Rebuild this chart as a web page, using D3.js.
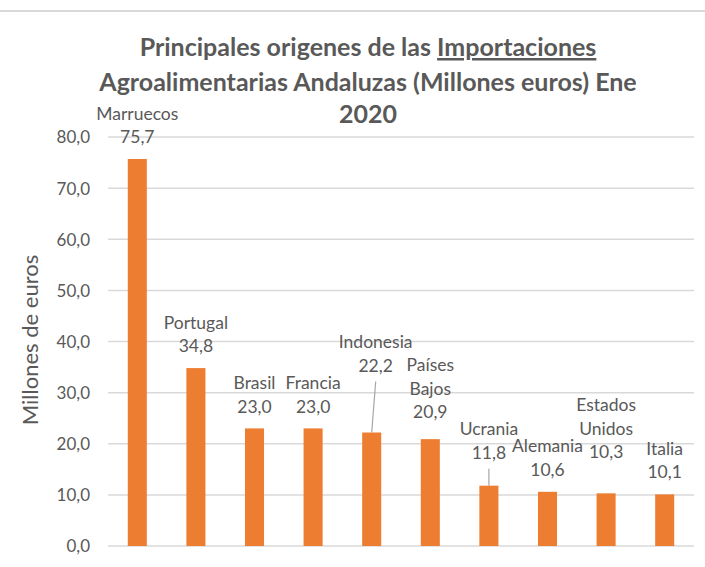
<!DOCTYPE html>
<html>
<head>
<meta charset="utf-8">
<script src="https://cdn.jsdelivr.net/npm/d3@7"></script>
<style>
  body { margin: 0; background: #fff; }
  text { font-family: Lato, "Open Sans", sans-serif; fill: #595959; }
</style>
</head>
<body>
<script>
// Data
var countries = ["Marruecos", "Portugal", "Brasil", "Francia", "Indonesia", "Países Bajos", "Ucrania", "Alemania", "Estados Unidos", "Italia"];
var values = [75.7, 34.8, 23.0, 23.0, 22.2, 20.9, 11.8, 10.6, 10.3, 10.1];
var yTicks = [0, 10, 20, 30, 40, 50, 60, 70, 80];
var titleLines = ["Principales origenes de las ", "Agroalimentarias Andaluzas (Millones euros) Ene", "2020"];

// Label layout (moved labels, wrapped names)
var labelShift = {"Indonesia": [4, -45], "Países Bajos": [0, -5], "Ucrania": [0, -11], "Estados Unidos": [0, -19]};
var leaderLines = ["Indonesia", "Ucrania"];
var wrapped = ["Países Bajos", "Estados Unidos"];

var width = 705, height = 567;
var margin = {top: 137, right: 11, bottom: 21, left: 108};

var svg = d3.select("body").append("svg")
    .attr("width", width)
    .attr("height", height);

// top border line
svg.append("line")
    .attr("x1", 0).attr("x2", width)
    .attr("y1", 11).attr("y2", 11)
    .style("stroke", "#d9d9d9")
    .style("stroke-width", 2);

var x = d3.scaleBand()
    .domain(countries)
    .range([margin.left, width - margin.right])
    .paddingInner(0.675)
    .paddingOuter(0.3375);

var y = d3.scaleLinear()
    .domain([0, 80])
    .range([height - margin.bottom, margin.top]);

// Gridlines
svg.append("g")
    .selectAll("line")
    .data(yTicks)
    .enter()
    .append("line")
    .attr("x1", margin.left)
    .attr("x2", width - margin.right)
    .attr("y1", function(d) { return y(d); })
    .attr("y2", function(d) { return y(d); })
    .style("stroke", "#d9d9d9")
    .style("stroke-width", 1.5);

// Y axis
var yAxis = svg.append("g")
    .attr("transform", "translate(" + (margin.left - 18) + ",0)")
    .call(d3.axisLeft(y).tickValues(yTicks).tickSize(0).tickPadding(0)
      .tickFormat(function(d) { return d.toFixed(1).replace(".", ","); }));
yAxis.select(".domain").remove();
yAxis.selectAll("text")
    .style("font-size", "17px")
    .style("fill", "#595959")
    .style("font-family", "Lato, sans-serif")
    .attr("dy", "0.35em");

// Axis title
svg.append("text")
    .attr("transform", "translate(38," + 340 + ") rotate(-90)")
    .attr("text-anchor", "middle")
    .style("font-size", "22px")
    .text("Millones de euros");

// Bars
svg.selectAll(".bar")
    .data(countries)
    .enter()
    .append("rect")
    .attr("class", "bar")
    .attr("x", function(d) { return x(d); })
    .attr("width", x.bandwidth())
    .attr("y", function(d, i) { return y(values[i]); })
    .attr("height", function(d, i) { return y(0) - y(values[i]); })
    .style("fill", "#ED7D31");

// Data labels
var lineH = 23.5;
countries.forEach(function(c, i) {
  var cx = x(c) + x.bandwidth() / 2;
  var top = y(values[i]);
  var shift = labelShift[c] || [0, 0];
  var lx = cx + shift[0];
  var valueY = top - 22 + shift[1];
  var lines = wrapped.indexOf(c) >= 0 ? c.split(" ") : [c];
  lines.push(values[i].toFixed(1).replace(".", ","));

  var t = svg.append("text")
      .attr("text-anchor", "middle")
      .style("font-size", "17.5px");
  lines.forEach(function(l, k) {
    t.append("tspan")
      .attr("x", lx)
      .attr("y", valueY - (lines.length - 1 - k) * lineH)
      .attr("dy", "0.35em")
      .text(l);
  });

  if (leaderLines.indexOf(c) >= 0) {
    svg.append("line")
      .attr("x1", lx).attr("y1", valueY + 16)
      .attr("x2", cx).attr("y2", top)
      .style("stroke", "#a6a6a6")
      .style("stroke-width", 1.2);
  }
});

// Title
var title = svg.append("text")
    .attr("text-anchor", "middle")
    .style("font-size", "25px")
    .style("font-weight", "bold");
title.append("tspan")
    .attr("x", 368).attr("y", 56)
    .text(titleLines[0])
  .append("tspan")
    .style("text-decoration", "underline")
    .text("Importaciones");
title.append("tspan")
    .attr("x", 368).attr("y", 91)
    .text(titleLines[1]);
title.append("tspan")
    .attr("x", 368).attr("y", 123)
    .text(titleLines[2]);
</script>
</body>
</html>
